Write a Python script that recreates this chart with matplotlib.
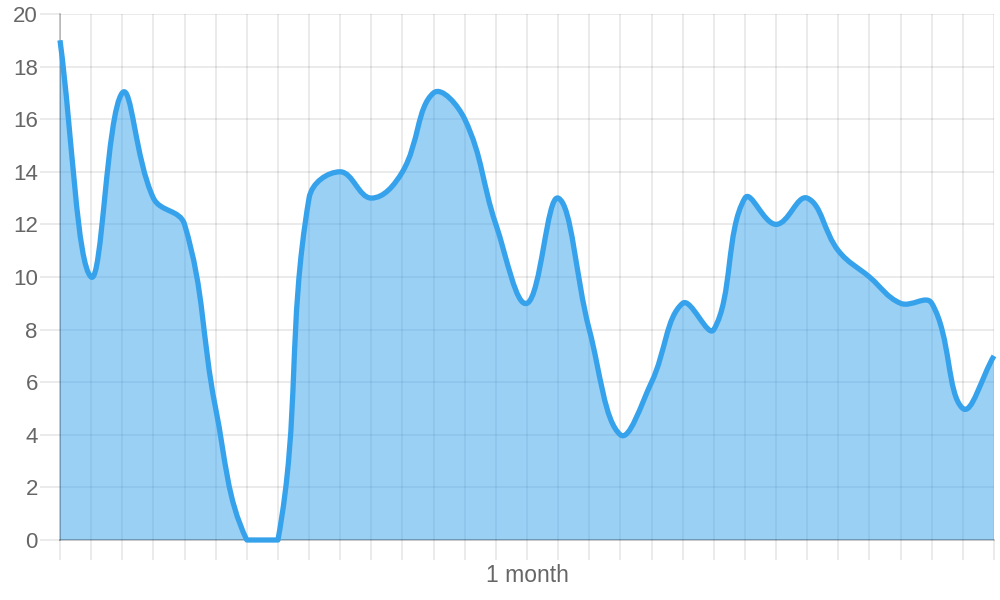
import numpy as np
import matplotlib
matplotlib.use("Agg")
import matplotlib.pyplot as plt
from matplotlib.path import Path
from matplotlib.patches import PathPatch

plt.rcParams['font.family'] = ['Liberation Sans', 'DejaVu Sans']

# one value per day, 31 days
days = list(range(31))
values = [19, 10, 17, 13, 12, 5, 0, 0, 13, 14, 13, 14, 17, 16, 12, 9,
          13, 8, 4, 6, 9, 8, 13, 12, 13, 11, 10, 9, 9, 5, 7]
y_ticks = list(range(0, 21, 2))
x_label_day = 15
x_label_text = "1 month"

line_color = '#36A2EB'
fill_color = (54 / 255, 162 / 255, 235 / 255, 0.5)
grid_color = (0, 0, 0, 0.1)
axis_color = (0, 0, 0, 0.28)
text_color = '#666666'


def bezier_verts(ax, xs, ys, tension=0.4):
    # spline like the one in Chart.js v2, control points capped to the chart area
    pts = ax.transData.transform(np.column_stack([xs, ys]))
    n = len(pts)
    cp_prev = np.zeros_like(pts)
    cp_next = np.zeros_like(pts)
    for i in range(n):
        prev = pts[max(i - 1, 0)]
        cur = pts[i]
        nxt = pts[min(i + 1, n - 1)]
        d01 = np.hypot(*(cur - prev))
        d12 = np.hypot(*(nxt - cur))
        tot = d01 + d12
        s01 = d01 / tot if tot else 0
        s12 = d12 / tot if tot else 0
        cp_prev[i] = cur - tension * s01 * (nxt - prev)
        cp_next[i] = cur + tension * s12 * (nxt - prev)
    bb = ax.bbox
    for cp in (cp_prev, cp_next):
        cp[:, 0] = np.clip(cp[:, 0], bb.x0, bb.x1)
        cp[:, 1] = np.clip(cp[:, 1], bb.y0, bb.y1)
    verts = [pts[0]]
    codes = [Path.MOVETO]
    for i in range(n - 1):
        verts += [cp_next[i], cp_prev[i + 1], pts[i + 1]]
        codes += [Path.CURVE4] * 3
    verts = ax.transData.inverted().transform(np.array(verts))
    return verts, codes


fig = plt.figure(figsize=(10, 6), dpi=100)
ax = fig.add_axes([0.06, 0.1, 0.934, 0.8767])
ax.set_xlim(days[0], days[-1])
ax.set_ylim(0, 20)

verts, codes = bezier_verts(ax, days, values)

# area under the curve
fill_verts = np.vstack([verts, [[days[-1], 0], [days[0], 0], verts[0]]])
fill_codes = codes + [Path.LINETO, Path.LINETO, Path.CLOSEPOLY]
ax.add_patch(PathPatch(Path(fill_verts, fill_codes), facecolor=fill_color,
                       edgecolor='none', zorder=2))
ax.add_patch(PathPatch(Path(verts, codes), fill=False, edgecolor=line_color,
                       lw=3.8, joinstyle='round', capstyle='butt',
                       zorder=3, clip_on=False))

# grid and axes
ax.set_axisbelow(True)
ax.set_xticks(days)
ax.set_xticklabels([x_label_text if d == x_label_day else '' for d in days])
ax.set_yticks(y_ticks)
ax.grid(True, color='black', alpha=0.1, lw=1.1)
for side in ('top', 'right'):
    ax.spines[side].set_visible(False)
for side in ('left', 'bottom'):
    ax.spines[side].set_color(axis_color)
    ax.spines[side].set_linewidth(1.1)

ax.tick_params(axis='both', length=14.5, width=1.1, color=grid_color,
               labelcolor=text_color, labelsize=16)
ax.tick_params(axis='y', pad=1.5)
ax.tick_params(axis='x', pad=3, labelsize=16.5)
ax.xaxis.get_major_ticks()[0].tick1line.set_color(axis_color)
ax.yaxis.get_major_ticks()[0].tick1line.set_color(axis_color)

fig.savefig('out.png', dpi=100)
